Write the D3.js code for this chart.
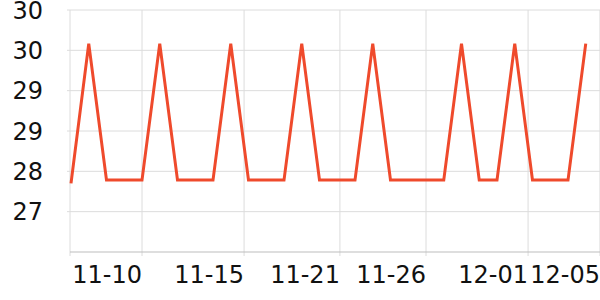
<!DOCTYPE html>
<html>
<head>
<meta charset="utf-8">
<script src="https://cdn.jsdelivr.net/npm/d3@7"></script>
<style>
  body { margin: 0; background: #fff; }
  text { font-family: "DejaVu Sans", sans-serif; }
</style>
</head>
<body>
<div class="chart"></div>
<script>
// dates 11-06 .. 12-05
const dates = ["11-06","11-07","11-08","11-09","11-10","11-11","11-12","11-13","11-14","11-15",
  "11-16","11-17","11-18","11-19","11-20","11-21","11-22","11-23","11-24","11-25",
  "11-26","11-27","11-28","11-29","11-30","12-01","12-02","12-03","12-04","12-05"];
const values = [27.82,29.9,27.87,27.87,27.87,29.9,27.87,27.87,27.87,29.9,
  27.87,27.87,27.87,29.9,27.87,27.87,27.87,29.9,27.87,27.87,
  27.87,27.87,29.9,27.87,27.87,29.9,27.87,27.87,27.87,29.9];

const yTicks = [30.4, 29.8, 29.2, 28.6, 28.0, 27.4];
const yTickLabels = ["30", "30", "29", "29", "28", "27"];
// x ticks sit at fractional index positions in the original
const xTickPos = [4, 9.75, 15.15, 20, 25.75, 29.8];
const xTickLabels = ["11-10", "11-15", "11-21", "11-26", "12-01", "12-05"];

const width = 600, height = 300;
const margin = { top: 10, right: 0, bottom: 48, left: 70 };

const svg = d3.select(".chart")
  .append("svg")
  .attr("width", width)
  .attr("height", height);

const x = d3.scaleLinear()
  .domain([0, dates.length - 1])
  .range([71, 585.75]);

const y = d3.scaleLinear()
  .domain([26.8, 30.4])
  .range([height - margin.bottom, margin.top]);

// horizontal grid
svg.append("g")
  .selectAll("line")
  .data(yTicks)
  .join("line")
  .attr("x1", margin.left - 3)
  .attr("x2", width)
  .attr("y1", d => y(d))
  .attr("y2", d => y(d))
  .attr("stroke", "#dcdcdc");

// vertical grid
svg.append("g")
  .selectAll("line")
  .data(xTickPos)
  .join("line")
  .attr("x1", d => x(d))
  .attr("x2", d => x(d))
  .attr("y1", margin.top)
  .attr("y2", height - margin.bottom + 4)
  .attr("stroke", "#dcdcdc");

// left axis line
svg.append("line")
  .attr("x1", margin.left).attr("x2", margin.left)
  .attr("y1", margin.top).attr("y2", height - margin.bottom + 4)
  .attr("stroke", "#dcdcdc");

// bottom axis line
svg.append("line")
  .attr("x1", margin.left).attr("x2", width)
  .attr("y1", y(26.8)).attr("y2", y(26.8))
  .attr("stroke", "#bdbdbd");

// y labels
svg.append("g")
  .selectAll("text")
  .data(yTicks)
  .join("text")
  .attr("x", 43)
  .attr("y", d => y(d))
  .attr("dy", "0.36em")
  .attr("text-anchor", "end")
  .style("font-size", "24px")
  .attr("fill", "#111")
  .text((d, i) => yTickLabels[i]);

// x labels
svg.append("g")
  .selectAll("text")
  .data(xTickPos)
  .join("text")
  .attr("x", d => x(d))
  .attr("y", 283)
  .attr("text-anchor", "end")
  .style("font-size", "24px")
  .attr("fill", "#111")
  .text((d, i) => xTickLabels[i]);

// line
svg.append("path")
  .datum(values)
  .attr("fill", "none")
  .attr("stroke", "#ef4a2c")
  .attr("stroke-width", 3)
  .attr("stroke-linejoin", "miter")
  .attr("d", d3.line()
    .x((d, i) => x(i))
    .y(d => y(d)));
</script>
</body>
</html>
